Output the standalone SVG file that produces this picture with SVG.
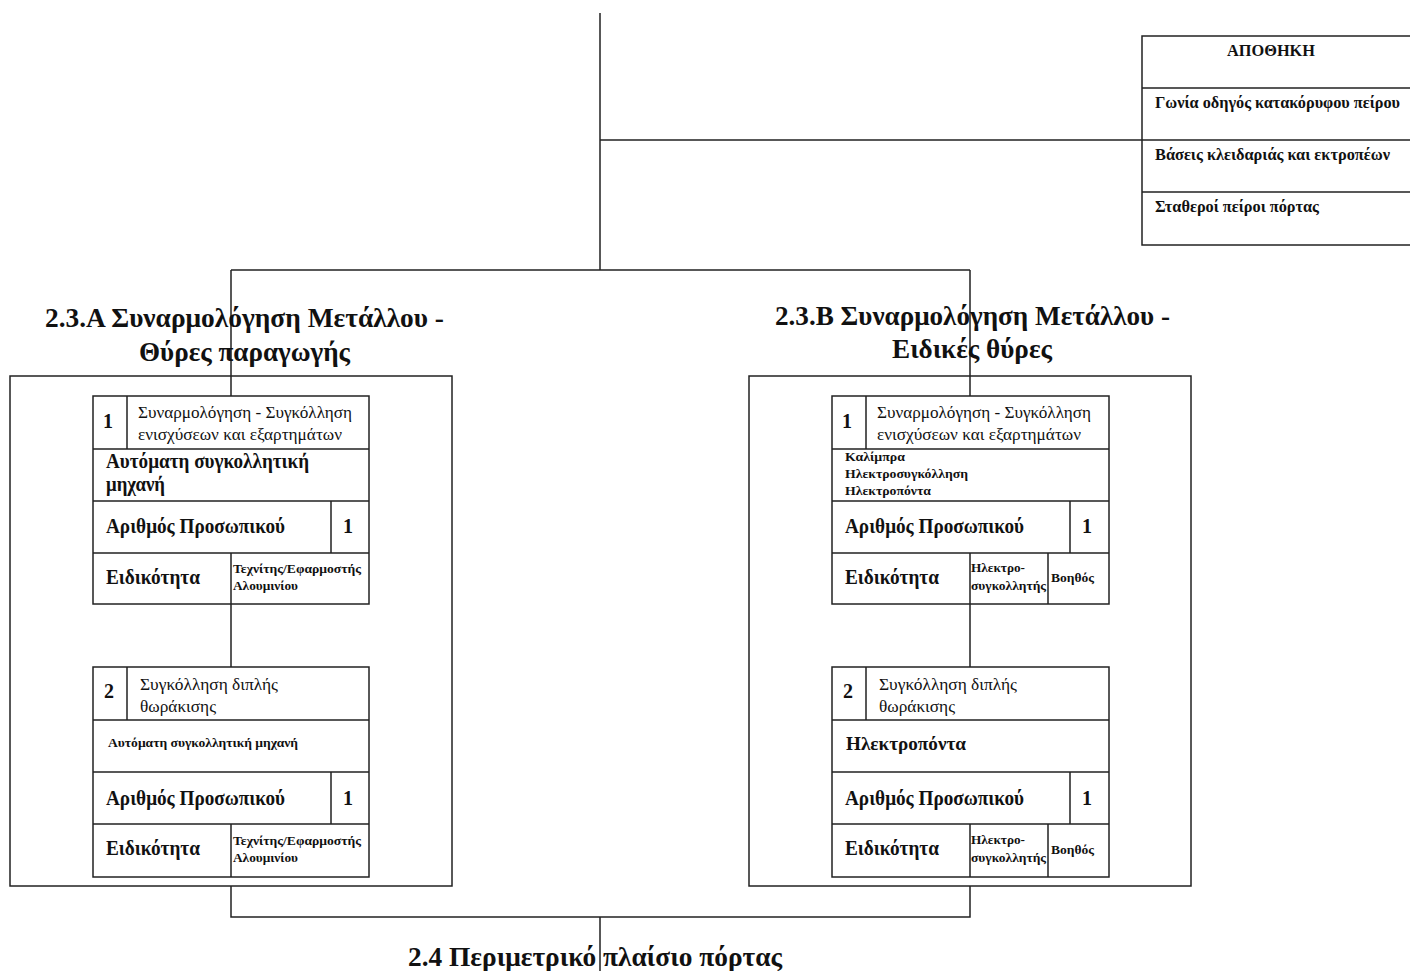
<svg xmlns="http://www.w3.org/2000/svg" width="1410" height="971" viewBox="0 0 1410 971">
<style>
.ln{stroke:#222;stroke-width:1.5;fill:none}
.bx{stroke:#222;stroke-width:1.5;fill:#fff}
text{font-family:"Liberation Serif","DejaVu Serif",serif;fill:#111}
.t{font-size:28px;font-weight:bold}
.b20{font-size:20px;font-weight:bold}
.n17{font-size:17px}
.b13{font-size:13px;font-weight:bold}
.b12{font-size:12px;font-weight:bold}
.b18{font-size:18px;font-weight:bold}
.b16{font-size:16px;font-weight:bold}
</style>
<rect width="1410" height="971" fill="#fff"/>
<g id="connectors">
<path class="ln" d="M600 13V270M600 140H1142M231 270H970M231 270V396M970 270V396M231 604V667M970 604V667M231 886V917H970V886M600 917V971"/>
</g>
<g id="warehouse">
<rect class="bx" x="1142" y="36" width="272" height="209"/>
<path class="ln" d="M1142 88H1412M1142 140H1412M1142 192H1412"/>
<text class="b16" x="1271" y="56" text-anchor="middle" textLength="88" lengthAdjust="spacingAndGlyphs">ΑΠΟΘΗΚΗ</text>
<text class="b16" x="1155" y="108" textLength="245" lengthAdjust="spacingAndGlyphs">Γωνία οδηγός κατακόρυφου πείρου</text>
<text class="b16" x="1155" y="160" textLength="235" lengthAdjust="spacingAndGlyphs">Βάσεις κλειδαριάς και εκτροπέων</text>
<text class="b16" x="1155" y="212" textLength="164" lengthAdjust="spacingAndGlyphs">Σταθεροί πείροι πόρτας</text>
</g>
<g id="groupA">
<text class="t" x="45" y="327" textLength="399" lengthAdjust="spacingAndGlyphs">2.3.Α Συναρμολόγηση Μετάλλου -</text>
<text class="t" x="139" y="361" textLength="211" lengthAdjust="spacingAndGlyphs">Θύρες παραγωγής</text>
<rect class="ln" x="10" y="376" width="442" height="510"/>
</g>
<g id="cardA1">
<rect class="bx" x="93" y="396" width="276" height="208"/>
<path class="ln" d="M127 396V449M93 449H369M93 501H369M331 501V553M93 553H369M231 553V604"/>
<text class="b20" x="103" y="428">1</text>
<text class="n17" x="138" y="418" textLength="214" lengthAdjust="spacingAndGlyphs">Συναρμολόγηση - Συγκόλληση</text>
<text class="n17" x="138" y="440" textLength="204" lengthAdjust="spacingAndGlyphs">ενισχύσεων και εξαρτημάτων</text>
<text class="b20" x="106" y="468" textLength="203" lengthAdjust="spacingAndGlyphs">Αυτόματη συγκολλητική</text>
<text class="b20" x="106" y="491" textLength="59" lengthAdjust="spacingAndGlyphs">μηχανή</text>
<text class="b20" x="106" y="533" textLength="179" lengthAdjust="spacingAndGlyphs">Αριθμός Προσωπικού</text>
<text class="b20" x="343" y="533">1</text>
<text class="b20" x="106" y="584" textLength="94" lengthAdjust="spacingAndGlyphs">Ειδικότητα</text>
<text class="b12" x="233" y="573" textLength="128" lengthAdjust="spacingAndGlyphs">Τεχνίτης/Εφαρμοστής</text>
<text class="b12" x="233" y="590" textLength="65" lengthAdjust="spacingAndGlyphs">Αλουμινίου</text>
</g>
<g id="cardA2">
<rect class="bx" x="93" y="667" width="276" height="210"/>
<path class="ln" d="M127 667V720M93 720H369M93 772H369M331 772V824M93 824H369M231 824V877"/>
<text class="b20" x="104" y="698">2</text>
<text class="n17" x="140" y="690" textLength="138" lengthAdjust="spacingAndGlyphs">Συγκόλληση διπλής</text>
<text class="n17" x="140" y="712" textLength="76" lengthAdjust="spacingAndGlyphs">θωράκισης</text>
<text class="b13" x="108" y="747" textLength="190" lengthAdjust="spacingAndGlyphs">Αυτόματη συγκολλητική μηχανή</text>
<text class="b20" x="106" y="805" textLength="179" lengthAdjust="spacingAndGlyphs">Αριθμός Προσωπικού</text>
<text class="b20" x="343" y="805">1</text>
<text class="b20" x="106" y="855" textLength="94" lengthAdjust="spacingAndGlyphs">Ειδικότητα</text>
<text class="b12" x="233" y="845" textLength="128" lengthAdjust="spacingAndGlyphs">Τεχνίτης/Εφαρμοστής</text>
<text class="b12" x="233" y="862" textLength="65" lengthAdjust="spacingAndGlyphs">Αλουμινίου</text>
</g>
<g id="groupB">
<text class="t" x="775" y="325" textLength="395" lengthAdjust="spacingAndGlyphs">2.3.Β Συναρμολόγηση Μετάλλου -</text>
<text class="t" x="892" y="358" textLength="160" lengthAdjust="spacingAndGlyphs">Ειδικές θύρες</text>
<rect class="ln" x="749" y="376" width="442" height="510"/>
</g>
<g id="cardB1">
<rect class="bx" x="832" y="396" width="277" height="208"/>
<path class="ln" d="M866 396V449M832 449H1109M832 501H1109M1070 501V553M832 553H1109M970 553V604M1048 553V604"/>
<text class="b20" x="842" y="428">1</text>
<text class="n17" x="877" y="418" textLength="214" lengthAdjust="spacingAndGlyphs">Συναρμολόγηση - Συγκόλληση</text>
<text class="n17" x="877" y="440" textLength="204" lengthAdjust="spacingAndGlyphs">ενισχύσεων και εξαρτημάτων</text>
<text class="b13" x="845" y="461" textLength="60" lengthAdjust="spacingAndGlyphs">Καλίμπρα</text>
<text class="b13" x="845" y="478" textLength="123" lengthAdjust="spacingAndGlyphs">Ηλεκτροσυγκόλληση</text>
<text class="b13" x="845" y="495" textLength="86" lengthAdjust="spacingAndGlyphs">Ηλεκτροπόντα</text>
<text class="b20" x="845" y="533" textLength="179" lengthAdjust="spacingAndGlyphs">Αριθμός Προσωπικού</text>
<text class="b20" x="1082" y="533">1</text>
<text class="b20" x="845" y="584" textLength="94" lengthAdjust="spacingAndGlyphs">Ειδικότητα</text>
<text class="b12" x="971" y="572" textLength="54" lengthAdjust="spacingAndGlyphs">Ηλεκτρο-</text>
<text class="b12" x="971" y="590" textLength="75" lengthAdjust="spacingAndGlyphs">συγκολλητής</text>
<text class="b12" x="1051" y="582" textLength="43" lengthAdjust="spacingAndGlyphs">Βοηθός</text>
</g>
<g id="cardB2">
<rect class="bx" x="832" y="667" width="277" height="210"/>
<path class="ln" d="M866 667V720M832 720H1109M832 772H1109M1070 772V824M832 824H1109M970 824V877M1048 824V877"/>
<text class="b20" x="843" y="698">2</text>
<text class="n17" x="879" y="690" textLength="138" lengthAdjust="spacingAndGlyphs">Συγκόλληση διπλής</text>
<text class="n17" x="879" y="712" textLength="76" lengthAdjust="spacingAndGlyphs">θωράκισης</text>
<text class="b18" x="846" y="750" textLength="120" lengthAdjust="spacingAndGlyphs">Ηλεκτροπόντα</text>
<text class="b20" x="845" y="805" textLength="179" lengthAdjust="spacingAndGlyphs">Αριθμός Προσωπικού</text>
<text class="b20" x="1082" y="805">1</text>
<text class="b20" x="845" y="855" textLength="94" lengthAdjust="spacingAndGlyphs">Ειδικότητα</text>
<text class="b12" x="971" y="844" textLength="54" lengthAdjust="spacingAndGlyphs">Ηλεκτρο-</text>
<text class="b12" x="971" y="862" textLength="75" lengthAdjust="spacingAndGlyphs">συγκολλητής</text>
<text class="b12" x="1051" y="854" textLength="43" lengthAdjust="spacingAndGlyphs">Βοηθός</text>
</g>
<g id="frame24">
<text class="t" x="408" y="966" textLength="374" lengthAdjust="spacingAndGlyphs">2.4 Περιμετρικό πλαίσιο πόρτας</text>
</g>
</svg>
